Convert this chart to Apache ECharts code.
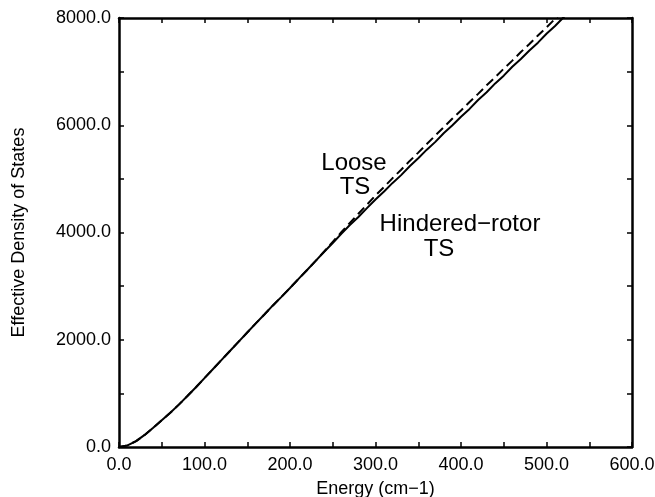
<!DOCTYPE html>
<html>
<head>
<meta charset="utf-8">
<script src="https://cdn.jsdelivr.net/npm/echarts@6/dist/echarts.min.js"></script>
<style>
html,body{margin:0;padding:0;background:#fff;}
#chart{width:655px;height:497px;}
</style>
</head>
<body>
<div id="chart"></div>
<script>
// Energy grid (cm-1)
var energy = [0,10,20,30,40,50,60,70,80,90,100,110,120,130,140,150,160,170,180,190,200,210,220,230,240,250,260,270,280,290,300,310,320,330,340,350,360,370,380,390,400,410,420,430,440,450,460,470,480,490,500,510,520,530];
// Hindered-rotor TS (solid)
var hinderedTS = [0,30,110,225,360,500,640,790,950,1115,1285,1455,1625,1795,1965,2135,2305,2470,2640,2800,2965,3135,3300,3470,3640,3805,3975,4140,4290,4455,4615,4765,4925,5070,5235,5385,5545,5690,5855,6000,6160,6305,6470,6615,6780,6925,7090,7235,7395,7540,7705,7850,8015,8170];
// Loose TS (dashed)
var looseTS = [0,30,110,225,360,500,640,790,950,1115,1285,1455,1625,1795,1965,2135,2305,2470,2640,2800,2965,3135,3300,3470,3645,3825,4005,4180,4350,4520,4690,4850,5015,5170,5335,5490,5650,5810,5965,6125,6275,6435,6585,6745,6895,7055,7205,7365,7515,7675,7825,7985,8135,8290];

var xTicks = [0,100,200,300,400,500,600];
var yTicks = [0,2000,4000,6000,8000];

var labels = [
  {text:'Loose', x:354, y:163},
  {text:'TS', x:355, y:187},
  {text:'Hindered\u2212rotor', x:460, y:224},
  {text:'TS', x:439, y:249}
];

function pairs(xs, ys){ return xs.map(function(x,i){ return [x, ys[i]]; }); }

var FONT = 'Liberation Sans, Arial, Helvetica, sans-serif';
var lineStyleAxis = {color:'#000', width:2.5};

function xAx(pos, showLabel){
  return {
    type:'value', position:pos, min:xTicks[0], max:xTicks[xTicks.length-1], interval:100,
    axisLine:{show:true, onZero:false, lineStyle:lineStyleAxis},
    axisTick:{show:true, inside:true, length:5, lineStyle:{color:'#000', width:1.5}},
    minorTick:{show:true, splitNumber:2, length:5, lineStyle:{color:'#000', width:1.5}},
    axisLabel:{show:showLabel, color:'#000', fontSize:18, fontFamily:FONT, margin:9,
      formatter:function(v){ return v.toFixed(1); }},
    splitLine:{show:false},
    name: showLabel ? 'Energy (cm\u22121)' : '',
    nameLocation:'middle', nameGap:33,
    nameTextStyle:{color:'#000', fontSize:18, fontFamily:FONT}
  };
}
function yAx(pos, showLabel){
  return {
    type:'value', position:pos, min:yTicks[0], max:yTicks[yTicks.length-1], interval:2000,
    axisLine:{show:true, onZero:false, lineStyle:lineStyleAxis},
    axisTick:{show:true, inside:true, length:5, lineStyle:{color:'#000', width:1.5}},
    minorTick:{show:true, splitNumber:2, length:5, lineStyle:{color:'#000', width:1.5}},
    axisLabel:{show:showLabel, color:'#000', fontSize:18, fontFamily:FONT, margin:8,
      formatter:function(v){ return v.toFixed(1); }},
    splitLine:{show:false},
    name: showLabel ? 'Effective Density of States' : '',
    nameLocation:'middle', nameGap:91, nameRotate:90,
    nameTextStyle:{color:'#000', fontSize:18, fontFamily:FONT}
  };
}

var chart = echarts.init(document.getElementById('chart'), null, {renderer:'canvas'});
chart.setOption({
  animation:false,
  backgroundColor:'#fff',
  grid:{left:119, right:23, top:18, bottom:50, containLabel:false, outerBoundsMode:'none'},
  xAxis:[xAx('bottom', true), xAx('top', false)],
  yAxis:[yAx('left', true), yAx('right', false)],
  series:[
    {type:'line', name:'Loose TS', data:pairs(energy, looseTS), showSymbol:false, clip:true,
      lineStyle:{color:'#000', width:2, type:[9,5]}, z:3},
    {type:'line', name:'Hindered-rotor TS', data:pairs(energy, hinderedTS), showSymbol:false, clip:true,
      lineStyle:{color:'#000', width:2}, z:4}
  ],
  graphic: labels.map(function(l){
    return {type:'text', x:l.x, y:l.y, z:10,
      style:{text:l.text, fill:'#000', font:'24px ' + FONT, textAlign:'center', textVerticalAlign:'middle'}};
  })
});
</script>
</body>
</html>
